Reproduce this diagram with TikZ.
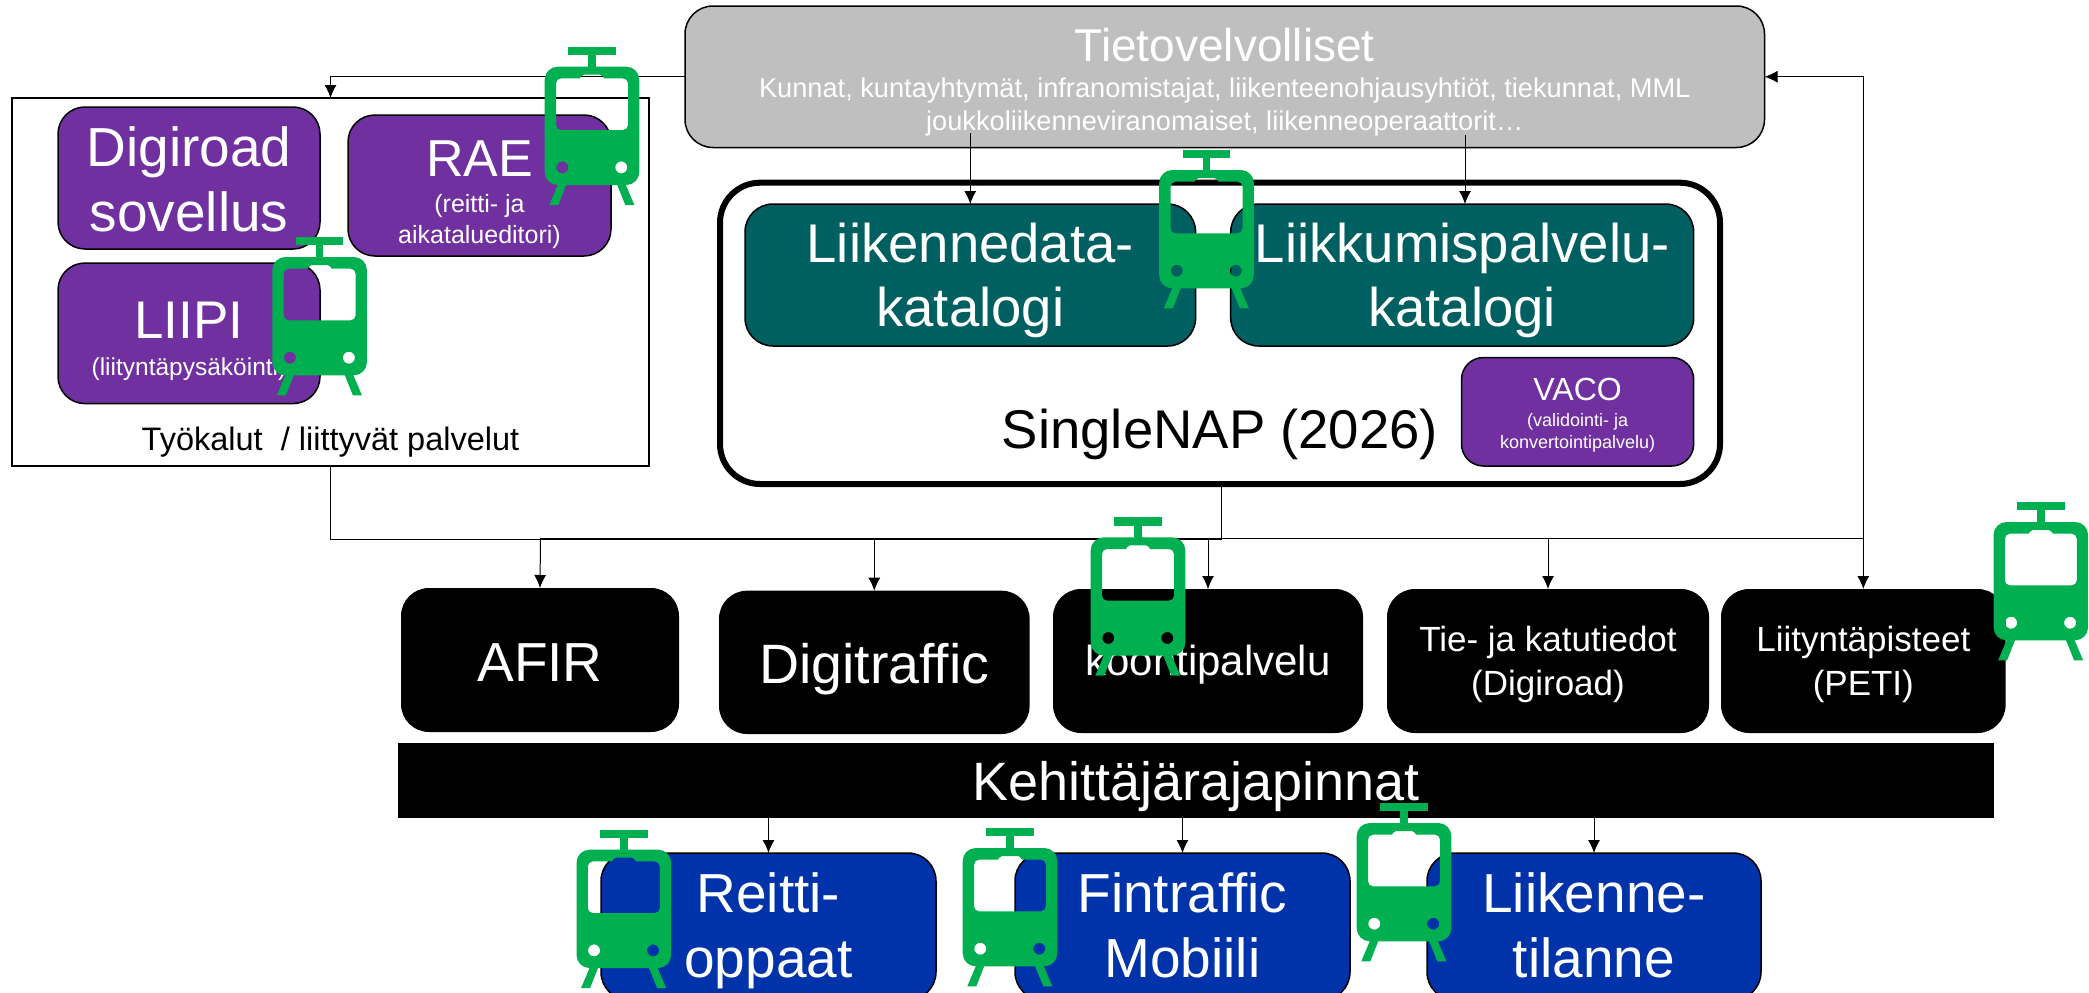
\documentclass[tikz,border=0pt]{standalone}
\usepackage{fontspec}
\setmainfont{Liberation Sans}
\usetikzlibrary{arrows.meta}
\definecolor{vio}{HTML}{7030A0}
\definecolor{tealb}{HTML}{005F60}
\definecolor{greyb}{HTML}{BFBFBF}
\definecolor{blueb}{HTML}{0033AA}
\definecolor{tramg}{HTML}{00B050}
\newcommand{\tline}[3]{\makebox[0pt][c]{\raisebox{#1pt}[0pt][0pt]{\fontsize{#2pt}{#2pt}\selectfont #3}}}
\tikzset{
  x=1pt,y=-1pt,
  bx/.style={rectangle,inner sep=0pt,outer sep=0pt},
  violet box/.style={bx,draw=black,line width=1.5pt,fill=vio,text=white,rounded corners=27pt},
  teal box/.style={bx,draw=black,line width=1.5pt,fill=tealb,text=white,rounded corners=28pt},
  black box/.style={bx,fill=black,text=white,rounded corners=28pt},
  blue box/.style={bx,draw=black,line width=1.5pt,fill=blueb,text=white,rounded corners=28pt},
  conn/.style={draw=black,line width=1pt},
  arr/.style={conn,-{Latex[length=13pt,width=12pt]}},
  tram/.pic={
    \fill[tramg] (-23.7,0) rectangle (23.7,8.3);
    \fill[tramg] (-3.7,8) rectangle (3.7,21);
    \fill[tramg] (-33.7,137) -- (-25.3,137) -- (-33.7,158.3) -- (-42.7,158.3) -- cycle;
    \fill[tramg] (24.7,137) -- (33.3,137) -- (42.3,158.3) -- (33.3,158.3) -- cycle;
    \fill[tramg,even odd rule]
      [rounded corners=13pt] (-47.3,20) rectangle (47.3,138.3)
      [sharp corners] (-36,83.3) [rounded corners=5pt] -- (-36,31.7) [sharp corners] -- (-12,31.7) [rounded corners=2pt] -- (-10,28) -- (10,28) [sharp corners] -- (12,31.7) [rounded corners=5pt] -- (36,31.7) -- (36,83.3) -- cycle
      [sharp corners] (-29.7,120.7) circle (6) (29.3,120.7) circle (6);
  }
}
\begin{document}
\begin{tikzpicture}
\path[use as bounding box,fill=white] (0,0) rectangle (2089,993);
% tools
\node[bx,draw=black,line width=2pt,fill=white,minimum width=637pt,minimum height=368pt] (work) at (330.5,282)
  {\tline{-168}{32.5}{Työkalut~ / liittyvät palvelut}};
\node[violet box,minimum width=262pt,minimum height=142pt] (dig) at (189,178)
  {\tline{12}{55}{Digiroad}\tline{-53.5}{55}{sovellus}};
\node[violet box,minimum width=263pt,minimum height=141pt] (rae) at (479.5,185.5)
  {\tline{9.5}{52}{RAE}\tline{-27}{25}{(reitti- ja}\tline{-57.5}{25}{aikatalueditori)}};
\node[violet box,minimum width=262pt,minimum height=140.6pt] (liipi) at (189,333.3)
  {\tline{-4.9}{53}{LIIPI}\tline{-41.7}{24.5}{(liityntäpysäköinti)}};
% data providers
\node[bx,draw=black,line width=1.5pt,fill=greyb,text=white,rounded corners=28pt,minimum width=1079.5pt,minimum height=141.5pt] (tieto) at (1224.75,76.75)
  {\tline{15.3}{46}{Tietovelvolliset}\tline{-20.4}{27.2}{Kunnat, kuntayhtymät, infranomistajat, liikenteenohjausyhtiöt, tiekunnat, MML}\tline{-53.5}{27.2}{joukkoliikenneviranomaiset, liikenneoperaattorit…}};
% SingleNAP
\node[bx,draw=black,line width=6pt,fill=white,rounded corners=40pt,minimum width=1000pt,minimum height=301.3pt] (nap) at (1220,333.35)
  {\tline{-115}{54.5}{SingleNAP (2026)}};
\node[teal box,minimum width=450.6pt,minimum height=142pt] (kat1) at (970.3,275)
  {\tline{12.5}{54.5}{Liikennedata-}\tline{-51.8}{54.5}{katalogi}};
\node[teal box,minimum width=463pt,minimum height=142pt] (kat2) at (1462.2,275)
  {\tline{12.5}{54.5}{Liikkumispalvelu-}\tline{-51.8}{54.5}{katalogi}};
\node[violet box,rounded corners=22pt,minimum width=232.2pt,minimum height=108.5pt] (vaco) at (1577.6,411.75)
  {\tline{11}{32}{VACO}\tline{-15}{18}{(validointi- ja}\tline{-36.5}{18}{konvertointipalvelu)}};
% services
\node[black box,minimum width=278pt,minimum height=144pt] (afir) at (540,660)
  {\tline{-21}{55}{AFIR}};
\node[black box,minimum width=310.6pt,minimum height=143.3pt] (digi) at (874.3,662.35)
  {\tline{-21}{55.5}{Digitraffic}};
\node[black box,minimum width=310pt,minimum height=144pt] (koonti) at (1208,661)
  {\tline{-14}{42}{koontipalvelu}};
\node[black box,minimum width=322pt,minimum height=144pt] (tie) at (1548,661)
  {\tline{9.3}{35}{Tie- ja katutiedot}\tline{-34}{35}{(Digiroad)}};
\node[black box,minimum width=284.6pt,minimum height=144pt] (peti) at (1863.3,661)
  {\tline{9.3}{35}{Liityntäpisteet}\tline{-34}{35}{(PETI)}};
\node[bx,fill=black,text=white,minimum width=1596.1pt,minimum height=75pt] (bar) at (1195.65,780.5)
  {\tline{-20}{54}{Kehittäjärajapinnat}};
% end-user services
\node[blue box,minimum width=335pt,minimum height=147pt] (reitti) at (768.5,926.5)
  {\tline{13.8}{55}{Reitti-}\tline{-51}{55}{oppaat}};
\node[blue box,minimum width=335pt,minimum height=147pt] (fin) at (1182.5,926.5)
  {\tline{13.8}{55}{Fintraffic}\tline{-51}{55}{Mobiili}};
\node[blue box,minimum width=334pt,minimum height=147pt] (liik) at (1594,926.5)
  {\tline{13.8}{55}{Liikenne-}\tline{-51}{55}{tilanne}};
% connectors
\coordinate (busL) at (540.5,538);
\coordinate (busJ) at (1221.5,538);
\coordinate (busR) at (1863.3,538);
\coordinate (t1) at (970.3,133);
\coordinate (t2) at (1465,135);
\draw[arr] (tieto.west) -| (work.north);
\draw[arr] (t1) -- (kat1.north);
\draw[arr] (t2) -- (t2 |- kat2.north);
\draw[conn] (work.south) |- ([yshift=-1.5pt]busJ);
\draw[conn] (busJ |- nap.south) -- ([yshift=-1.5pt]busJ);
\draw[conn] (busL) -- (busR);
\draw[arr] (busL) -- (afir.north);
\draw[arr] (digi.north |- busL) -- (digi.north);
\draw[arr] (koonti.north |- busL) -- (koonti.north);
\draw[arr] (tie.north |- busL) -- (tie.north);
\draw[conn,{Latex[length=13pt,width=12pt]}-{Latex[length=13pt,width=12pt]}] (peti.north) |- (tieto.east);
\draw[arr] (reitti.north |- bar.south) -- (reitti.north);
\draw[arr] (fin.north |- bar.south) -- (fin.north);
\draw[arr] (liik.north |- bar.south) -- (liik.north);
% trams
\pic at (592,46.7) {tram};
\pic at (319.6,237) {tram};
\pic at (1206.5,150) {tram};
\pic at (1138,517.3) {tram};
\pic at (2040.8,502) {tram};
\pic at (623.8,829.7) {tram};
\pic at (1010,828) {tram};
\pic at (1404,803) {tram};
\end{tikzpicture}
\end{document}
